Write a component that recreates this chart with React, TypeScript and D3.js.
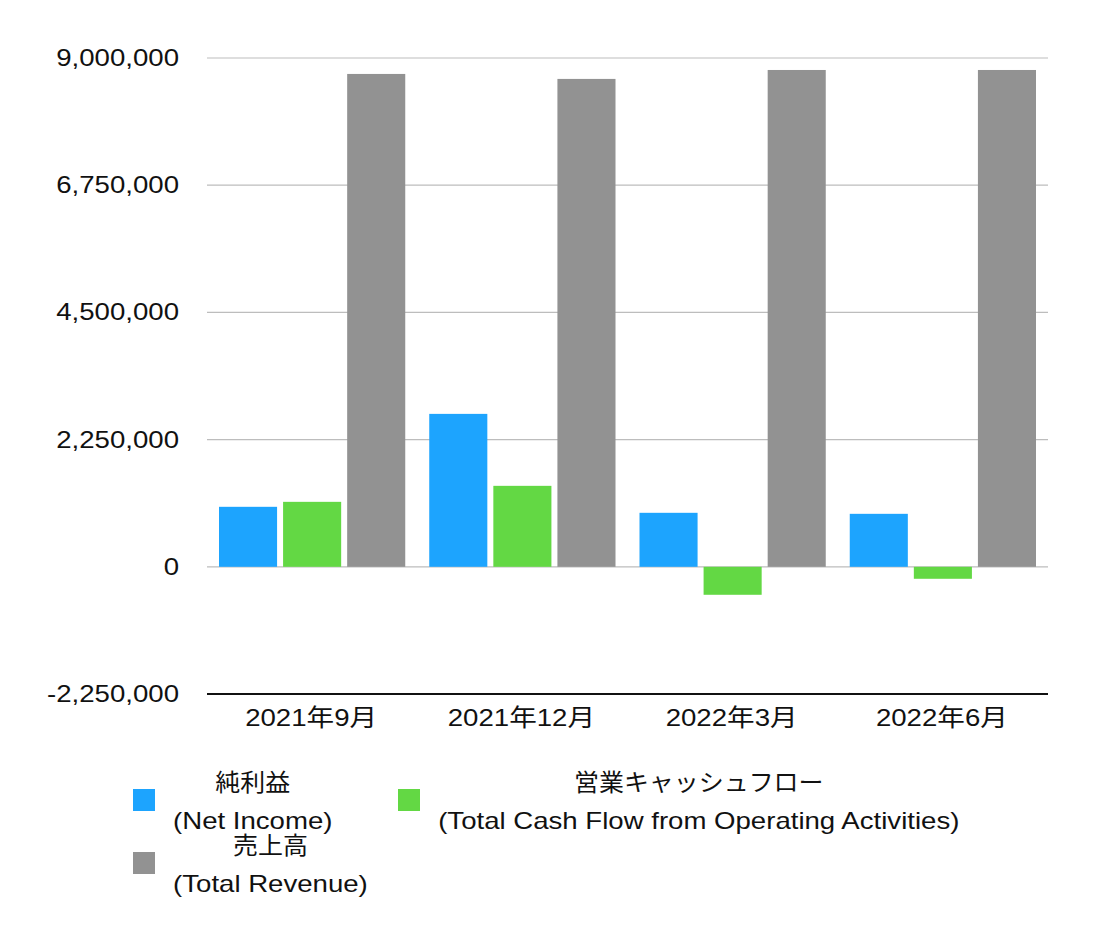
import React, { useEffect, useRef } from "react";
import * as d3 from "d3";

const categories = ["2021年9月", "2021年12月", "2022年3月", "2022年6月"];
const seriesKeys = ["netIncome", "cashFlow", "revenue"];
const seriesLabelsJa = ["純利益", "営業キャッシュフロー", "売上高"];
const seriesLabelsEn = ["(Net Income)", "(Total Cash Flow from Operating Activities)", "(Total Revenue)"];
const seriesColors = ["#1DA4FE", "#63D844", "#929292"];
const netIncome = [1061000, 2705000, 955000, 937000];
const cashFlow = [1149000, 1432000, -495000, -212000];
const revenue = [8718000, 8630000, 8788000, 8788000];
const yTicks = [-2250000, 0, 2250000, 4500000, 6750000, 9000000];

const FONT = "'Liberation Sans', Arial, Helvetica, 'Noto Sans CJK JP', sans-serif";

export default function App() {
  const ref = useRef<SVGSVGElement>(null);

  useEffect(() => {
    document.body.style.margin = "0";
    const svg = d3.select(ref.current);
    svg.selectAll("*").remove();

    const W = 1104, H = 942;
    const left = 207, right = 1048, top = 58, bottom = 694;

    const values = [netIncome, cashFlow, revenue];

    const y = d3.scaleLinear().domain([-2250000, 9000000]).range([bottom, top]);
    const x0 = d3.scaleBand<string>().domain(categories).range([left, right])
      .paddingInner(24 / 210.25).paddingOuter(12 / 210.25);
    const x1 = d3.scaleBand<string>().domain(seriesKeys).range([0, x0.bandwidth()]).paddingInner(0.09375);

    svg.append("rect").attr("width", W).attr("height", H).attr("fill", "#fff");

    // gridlines
    svg.append("g").selectAll("line").data(yTicks.filter((t) => t > -2250000)).join("line")
      .attr("x1", left).attr("x2", right)
      .attr("y1", (d) => y(d)).attr("y2", (d) => y(d))
      .attr("stroke", "#bdbdbd").attr("stroke-width", 1.2);

    // bars
    const fmt = (d: number) => d3.format(",")(d).replace("\u2212", "-");
    const gBars = svg.append("g");
    categories.forEach((c, ci) => {
      seriesKeys.forEach((k, si) => {
        const v = values[si][ci];
        gBars.append("rect")
          .attr("x", (x0(c) as number) + (x1(k) as number))
          .attr("width", x1.bandwidth())
          .attr("y", Math.min(y(v), y(0)))
          .attr("height", Math.abs(y(v) - y(0)))
          .attr("fill", seriesColors[si]);
      });
    });

    // bottom axis line
    svg.append("line").attr("x1", left).attr("x2", right)
      .attr("y1", y(-2250000)).attr("y2", y(-2250000))
      .attr("stroke", "#111").attr("stroke-width", 2);

    // y tick labels
    svg.append("g").selectAll("text").data(yTicks).join("text")
      .attr("transform", (d) => `translate(179,${y(d) + 8}) scale(1.2,1)`)
      .attr("text-anchor", "end")
      .attr("font-family", FONT).attr("font-size", 23).attr("fill", "#111")
      .text((d) => fmt(d));

    // x labels
    svg.append("g").selectAll("text").data(categories).join("text")
      .attr("transform", (d) => `translate(${(x0(d) as number) + x0.bandwidth() / 2 - 1},726) scale(1.15,1)`)
      .attr("text-anchor", "middle")
      .attr("font-family", FONT).attr("font-size", 24).attr("fill", "#111")
      .text((d) => d);

    // legend
    const legendPos = [
      { sx: 133, sy: 789 },
      { sx: 398, sy: 789 },
      { sx: 133, sy: 852 },
    ];
    seriesKeys.forEach((k, i) => {
      const p = legendPos[i];
      const g = svg.append("g");
      g.append("rect").attr("x", p.sx).attr("y", p.sy).attr("width", 22).attr("height", 22)
        .attr("fill", seriesColors[i]);
      const tx = p.sx + 22 + 18;
      const l1 = g.append("text").attr("font-family", FONT).attr("font-size", 24).attr("fill", "#111")
        .text(seriesLabelsJa[i]);
      const l2 = g.append("text").attr("font-family", FONT).attr("font-size", 23).attr("fill", "#111")
        .text(seriesLabelsEn[i]);
      const sc1 = 1.04;
      const sc2 = 1.2;
      const w1 = (l1.node() as SVGTextElement).getComputedTextLength() * sc1;
      const w2 = (l2.node() as SVGTextElement).getComputedTextLength() * sc2;
      const bw = Math.max(w1, w2);
      const cx = tx + bw / 2;
      l1.attr("text-anchor", "middle").attr("transform", `translate(${cx},${p.sy + 2}) scale(${sc1},1)`);
      l2.attr("text-anchor", "middle").attr("transform", `translate(${cx},${p.sy + 40}) scale(${sc2},1)`);
    });
  }, []);

  return <svg ref={ref} width={1104} height={942} style={{ display: "block" }} />;
}
